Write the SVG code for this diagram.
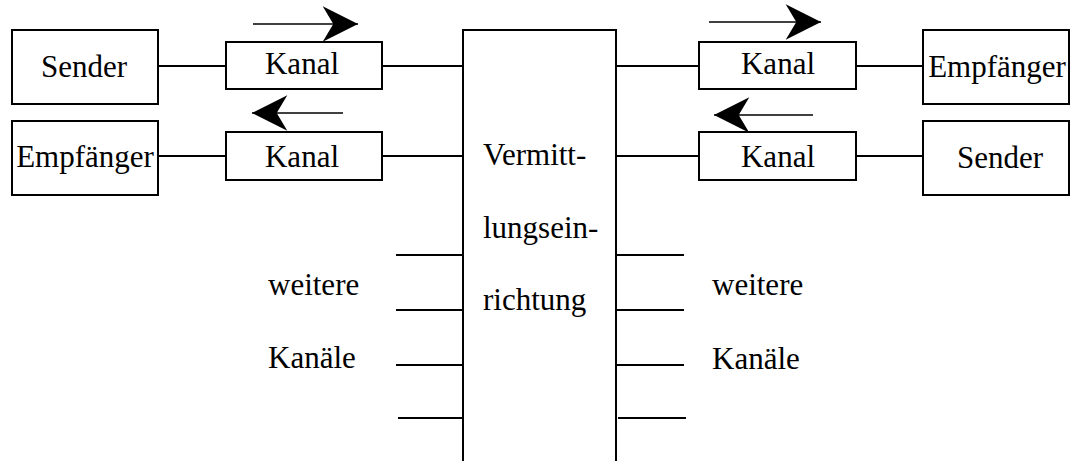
<svg xmlns="http://www.w3.org/2000/svg" width="1071" height="461" viewBox="0 0 1071 461">
<style>
.box{fill:#fff;stroke:#000;stroke-width:2}
.ln{stroke:#000;stroke-width:2;fill:none}
.ar{stroke:#000;stroke-width:1.5;fill:none}
text{font-family:"Liberation Serif","Times New Roman",serif;font-size:31px;fill:#000}
.c{text-anchor:middle}
</style>
<defs>
<marker id="ah" markerUnits="userSpaceOnUse" markerWidth="40" markerHeight="40" viewBox="-32 -16 34 32" refX="0" refY="0" orient="auto">
<path d="M0,0 L-30,-15 L-21,0 L-30,15 Z" fill="#000"/>
</marker>
</defs>
<g id="connectors">
<line class="ln" x1="158" y1="66" x2="226" y2="66"/>
<line class="ln" x1="382" y1="66" x2="463" y2="66"/>
<line class="ln" x1="158" y1="156" x2="226" y2="156"/>
<line class="ln" x1="382" y1="156" x2="463" y2="156"/>
<line class="ln" x1="616" y1="66" x2="699" y2="66"/>
<line class="ln" x1="856" y1="66" x2="923" y2="66"/>
<line class="ln" x1="616" y1="156" x2="699" y2="156"/>
<line class="ln" x1="856" y1="156" x2="923" y2="156"/>
<line class="ln" x1="396" y1="255" x2="463" y2="255"/>
<line class="ln" x1="396" y1="310" x2="463" y2="310"/>
<line class="ln" x1="396" y1="365" x2="463" y2="365"/>
<line class="ln" x1="398" y1="418" x2="463" y2="418"/>
<line class="ln" x1="616" y1="255" x2="684" y2="255"/>
<line class="ln" x1="616" y1="310" x2="684" y2="310"/>
<line class="ln" x1="616" y1="365" x2="684" y2="365"/>
<line class="ln" x1="618" y1="418" x2="686" y2="418"/>
<line class="ar" x1="253" y1="24" x2="358" y2="24" marker-end="url(#ah)"/>
<line class="ar" x1="343" y1="113" x2="252" y2="113" marker-end="url(#ah)"/>
<line class="ar" x1="709" y1="22" x2="821" y2="22" marker-end="url(#ah)"/>
<line class="ar" x1="813" y1="115" x2="714" y2="115" marker-end="url(#ah)"/>
</g>
<g id="sender-left"><rect class="box" x="12" y="30" width="146" height="74"/><text class="c" x="84" y="77">Sender</text></g>
<g id="empfaenger-left"><rect class="box" x="12" y="121" width="146" height="74"/><text class="c" x="85" y="167">Empfänger</text></g>
<g id="kanal-lt"><rect class="box" x="226" y="42" width="156" height="47"/><text class="c" x="302" y="74">Kanal</text></g>
<g id="kanal-lb"><rect class="box" x="226" y="132" width="156" height="48"/><text class="c" x="302" y="167">Kanal</text></g>
<g id="vermittlung">
<path class="ln" d="M463,461 V30 H616 V461"/>
<text x="483" y="165">Vermitt-</text>
<text x="483" y="238">lungsein-</text>
<text x="483" y="310">richtung</text>
</g>
<g id="kanal-rt"><rect class="box" x="699" y="42" width="157" height="47"/><text class="c" x="778" y="74">Kanal</text></g>
<g id="kanal-rb"><rect class="box" x="699" y="132" width="157" height="48"/><text class="c" x="778" y="167">Kanal</text></g>
<g id="empfaenger-right"><rect class="box" x="923" y="30" width="146" height="74"/><text class="c" x="997" y="77">Empfänger</text></g>
<g id="sender-right"><rect class="box" x="923" y="121" width="146" height="74"/><text class="c" x="1000" y="168">Sender</text></g>
<g id="weitere-left"><text x="268" y="295">weitere</text><text x="268" y="368">Kanäle</text></g>
<g id="weitere-right"><text x="712" y="295">weitere</text><text x="712" y="369">Kanäle</text></g>
</svg>
